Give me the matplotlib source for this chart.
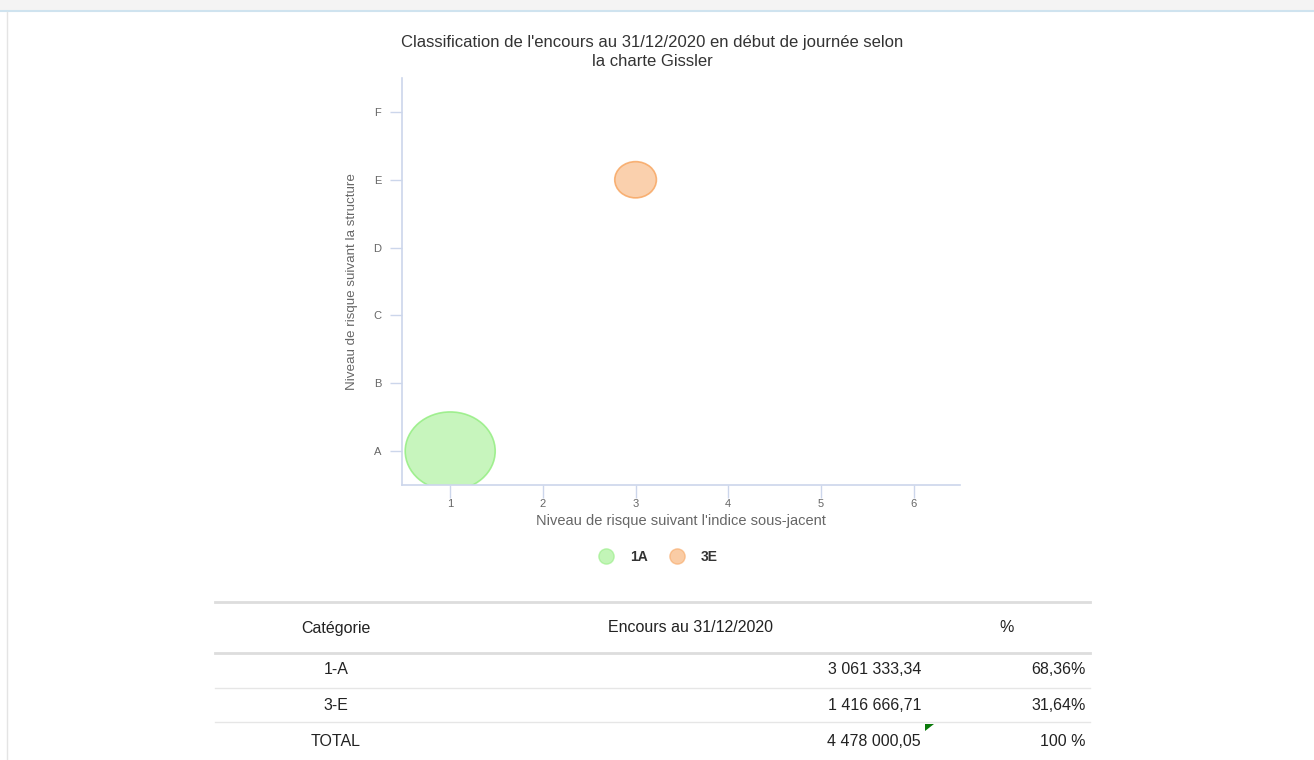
import matplotlib.pyplot as plt
from matplotlib.patches import Ellipse, Rectangle, Polygon
from matplotlib.lines import Line2D

plt.rcParams['font.family'] = ['Liberation Sans', 'DejaVu Sans']

# data
series = ["1A", "3E"]
categories = ["1-A", "3-E"]
x_vals = [1, 3]
y_vals = [1, 5]
encours = [3061333.34, 1416666.71]
y_letters = ["A", "B", "C", "D", "E", "F"]
colors = ["#90ed7d", "#f7a35c"]

total = sum(encours)


def fr(v):
    s = "{:,.2f}".format(v)
    return s.replace(",", " ").replace(".", ",")


W, H = 1314, 760
fig = plt.figure(figsize=(W / 100, H / 100), dpi=100)

# page decoration
fig.patches.append(Rectangle((0, 1 - 10 / H), 1, 10 / H, transform=fig.transFigure,
                             facecolor="#f4f4f4", edgecolor="none"))
fig.add_artist(Line2D([0, 1], [1 - 11 / H] * 2, color="#cfe3ef", lw=1.5))
fig.add_artist(Line2D([7 / W] * 2, [0, 1 - 12 / H], color="#e4e4e4", lw=1))

ax = fig.add_axes([402 / W, 1 - 485 / H, (960 - 402) / W, (485 - 78) / H])
ax.set_xlim(0.48, 6.5)
ax.set_ylim(0.5, 6.5)

# bubble sizes in data units (diameter proportional to value)
px_x = (960 - 402) / (6.5 - 0.48)
px_y = (485 - 78) / 6.0
d_max = 90.0
for xv, yv, v, c, s in zip(x_vals, y_vals, encours, colors, series):
    d = d_max * v / max(encours)
    e = Ellipse((xv, yv), d / px_x, d * 0.87 / px_y, facecolor=c, alpha=0.5,
                edgecolor="none")
    ax.add_patch(e)
    e2 = Ellipse((xv, yv), d / px_x, d * 0.87 / px_y, facecolor="none",
                 edgecolor=c, lw=1.2, alpha=0.8)
    ax.add_patch(e2)

for sp in ["top", "right"]:
    ax.spines[sp].set_visible(False)
for sp in ["left", "bottom"]:
    ax.spines[sp].set_color("#ccd6eb")
    ax.spines[sp].set_linewidth(1.2)

ax.set_xticks(range(1, 7))
ax.set_yticks(range(1, 7))
ax.set_yticklabels(y_letters)
ax.tick_params(axis="both", colors="#ccd6eb", length=9, width=1, labelcolor="#666666",
               labelsize=8)
ax.tick_params(axis="x", pad=1)
ax.tick_params(axis="y", pad=6)
ax.set_xlabel("Niveau de risque suivant l'indice sous-jacent", color="#666666",
              fontsize=10.5, labelpad=4)
ax.set_ylabel("Niveau de risque suivant la structure", color="#666666",
              fontsize=9.6, labelpad=11)

fig.text(652 / W, 1 - 42 / H, "Classification de l'encours au 31/12/2020 en début de journée selon",
         ha="center", va="center", fontsize=12, color="#333333")
fig.text(652 / W, 1 - 62 / H, "la charte Gissler",
         ha="center", va="center", fontsize=12, color="#333333")

# legend
handles = [Line2D([], [], marker="o", ls="none", markersize=11,
                  markerfacecolor=c, markeredgecolor=c, alpha=0.55) for c in colors]
leg = fig.legend(handles, series, loc="center", ncol=2, frameon=False,
                 bbox_to_anchor=(655 / W, 1 - 557 / H), columnspacing=1.1,
                 handletextpad=0.7, prop={"size": 10, "weight": "bold"})
for t in leg.get_texts():
    t.set_color("#333333")

# table
x0, x1 = 215 / W, 1090 / W
for yy, lw, col in [(602, 2, "#dddddd"), (653, 2, "#dddddd"), (688, 1, "#e6e6e6"),
                    (722, 1, "#e6e6e6")]:
    fig.add_artist(Line2D([x0, x1], [1 - yy / H] * 2, color=col, lw=lw))

fs = 11.5
fig.text(336 / W, 1 - 628 / H, "Catégorie", ha="center", va="center", fontsize=fs, color="#222222")
fig.text(690 / W, 1 - 628 / H, "Encours au 31/12/2020", ha="center", va="center",
         fontsize=fs, color="#222222")
fig.text(1007 / W, 1 - 628 / H, "%", ha="center", va="center", fontsize=fs, color="#222222")

rows = list(zip(categories, encours)) + [("TOTAL", total)]
row_y = [670, 705, 742]
for (name, v), yy in zip(rows, row_y):
    fig.text(336 / W, 1 - yy / H, name, ha="center", va="center", fontsize=fs, color="#222222")
    fig.text(921 / W, 1 - yy / H, fr(v), ha="right", va="center", fontsize=fs, color="#222222")
    if name == "TOTAL":
        pct = "100 %"
    else:
        pct = "{:.2f}%".format(100 * v / total).replace(".", ",")
    fig.text(1086 / W, 1 - yy / H, pct, ha="right", va="center", fontsize=fs, color="#222222")

# little green comment marker
fig.patches.append(Polygon([(925 / W, 1 - 724 / H), (934 / W, 1 - 724 / H), (925 / W, 1 - 731 / H)],
                           closed=True, transform=fig.transFigure, facecolor="#0a7a0a",
                           edgecolor="none"))

fig.savefig("out.png", dpi=100)
